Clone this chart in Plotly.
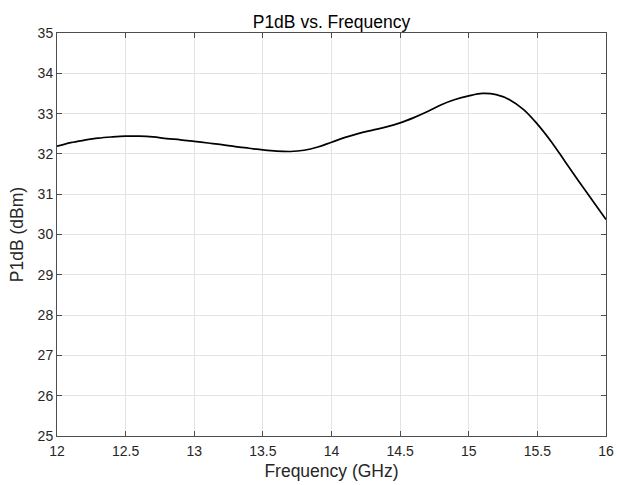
import plotly.graph_objects as go

freq_ghz = [12.0, 12.1, 12.2, 12.3, 12.4, 12.5, 12.6, 12.7, 12.8, 12.9,
            13.0, 13.1, 13.2, 13.3, 13.4, 13.5, 13.6, 13.7, 13.8, 13.9,
            14.0, 14.1, 14.2, 14.3, 14.4, 14.5, 14.6, 14.7, 14.8, 14.9,
            15.0, 15.1, 15.2, 15.3, 15.4, 15.5, 15.6, 15.7, 15.8, 15.9, 16.0]
p1db_dbm = [32.19, 32.28, 32.34, 32.39, 32.42, 32.44, 32.44, 32.42, 32.38, 32.35,
            32.31, 32.27, 32.23, 32.18, 32.14, 32.10, 32.07, 32.06, 32.09, 32.17,
            32.29, 32.41, 32.51, 32.59, 32.67, 32.77, 32.90, 33.05, 33.22, 33.35,
            33.44, 33.50, 33.47, 33.34, 33.10, 32.74, 32.31, 31.82, 31.33, 30.85, 30.37]

x_ticks = [12, 12.5, 13, 13.5, 14, 14.5, 15, 15.5, 16]
x_tick_labels = ["12", "12.5", "13", "13.5", "14", "14.5", "15", "15.5", "16"]
y_ticks = list(range(25, 36))

fig = go.Figure()
fig.add_trace(go.Scatter(x=freq_ghz, y=p1db_dbm, mode="lines",
                         line=dict(color="black", width=1.7, shape="spline")))

axis_common = dict(showline=True, linecolor="#4d4d4d", linewidth=1, mirror="ticks",
                   ticks="inside", ticklen=5, tickcolor="#4d4d4d",
                   showgrid=True, gridcolor="#e3e3e3", gridwidth=1,
                   zeroline=False, automargin=False,
                   tickfont=dict(size=14, color="#262626"))

fig.update_layout(
    width=617, height=485,
    margin=dict(l=57, r=11, t=33, b=49),
    paper_bgcolor="white", plot_bgcolor="white",
    font=dict(family="Liberation Sans, Arial, sans-serif", color="#262626"),
    title=dict(text="P1dB vs. Frequency", x=0.5, xref="paper", xanchor="center",
               y=0.9557, yref="container", yanchor="middle",
               font=dict(size=17.5, color="black")),
    showlegend=False,
    xaxis=dict(range=[12, 16], tickvals=x_ticks, ticktext=x_tick_labels,
               ticklabelstandoff=2,
               title=dict(text="Frequency (GHz)", font=dict(size=17.5), standoff=6), **axis_common),
    yaxis=dict(range=[25, 35], tickvals=y_ticks,
               title=dict(text="P1dB (dBm)", font=dict(size=17.5), standoff=9), **axis_common),
)

# remove the default 8px page margin so the figure fills the window exactly
fig.write_html("out.html",
               config={"displayModeBar": False},
               post_script="document.body.style.margin='0';document.body.style.overflow='hidden';")
